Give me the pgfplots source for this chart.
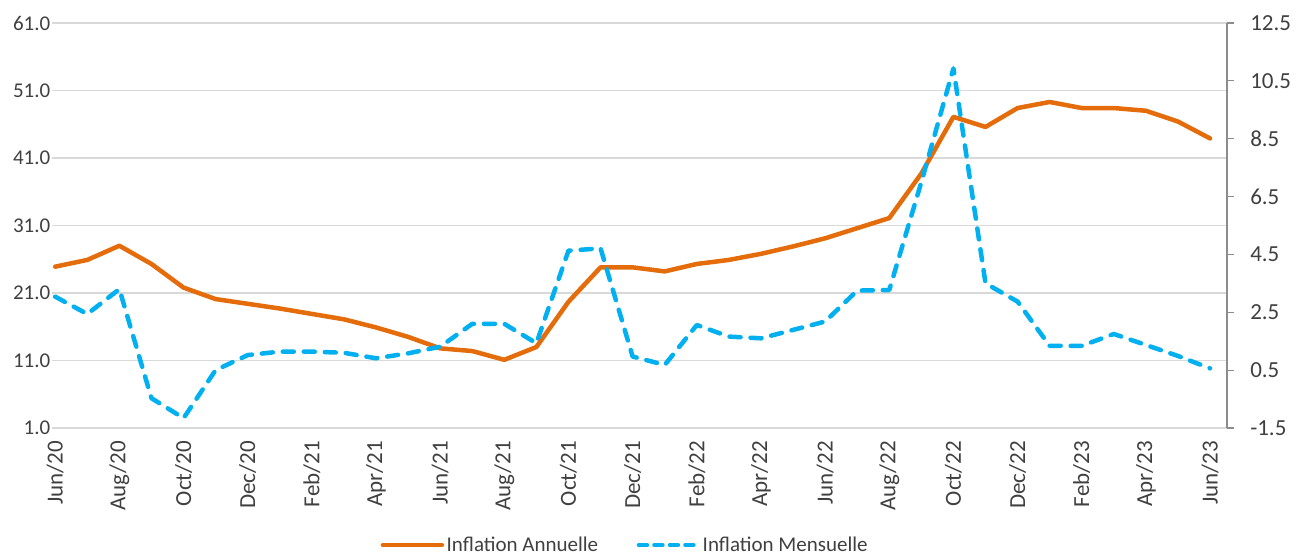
\documentclass[border=0pt]{standalone}
\usepackage{pgfplots}
\pgfplotsset{compat=1.18}
\usepackage{pgfplotstable}
\usepackage{fontspec}
\setmainfont{Carlito}
\definecolor{orangeA}{HTML}{E46C0A}
\definecolor{blueM}{HTML}{00B0F0}
\definecolor{gridc}{HTML}{D9D9D9}
\definecolor{txt}{HTML}{404040}
\definecolor{axc}{HTML}{8C8C8C}

\pgfplotstableread{
i annual monthly
0 24.9 3.04
1 25.9 2.44
2 28.0 3.30
3 25.3 -0.47
4 21.8 -1.16
5 20.1 0.50
6 19.4 1.02
7 18.7 1.14
8 17.9 1.14
9 17.1 1.10
10 15.9 0.91
11 14.5 1.08
12 12.8 1.31
13 12.4 2.10
14 11.1 2.10
15 13.0 1.43
16 19.7 4.63
17 24.8 4.71
18 24.8 0.97
19 24.2 0.68
20 25.3 2.06
21 25.9 1.66
22 26.8 1.60
23 27.9 1.89
24 29.1 2.18
25 30.6 3.25
26 32.1 3.27
27 38.7 7.00
28 47.1 10.93
29 45.6 3.50
30 48.4 2.87
31 49.3 1.34
32 48.4 1.34
33 48.4 1.75
34 48.0 1.37
35 46.4 0.99
36 43.9 0.56
}\data

\begin{document}
\begin{tikzpicture}
\useasboundingbox (0,0) rectangle (1298bp,558bp);
\begin{axis}[
  at={(52bp,130bp)}, anchor=south west,
  scale only axis, width=1175bp, height=405bp,
  xmin=-0.1, xmax=36.53, ymin=1, ymax=61,
  axis line style={draw=none},
  ytick={1,11,21,31,41,51,61},
  ymajorgrids, major grid style={gridc, line width=1.5bp},
  major tick length=0pt,
  xtick={0,2,...,36},
  xticklabels={Jun/20,Aug/20,Oct/20,Dec/20,Feb/21,Apr/21,Jun/21,Aug/21,Oct/21,Dec/21,Feb/22,Apr/22,Jun/22,Aug/22,Oct/22,Dec/22,Feb/23,Apr/23,Jun/23},
  xticklabel style={rotate=90, anchor=east, inner sep=0pt, text=txt, font=\fontsize{23bp}{27bp}\selectfont},
  xticklabel shift=13bp,
  yticklabel style={anchor=east, inner sep=0pt, text=txt, font=\fontsize{21bp}{25bp}\selectfont,
    /pgf/number format/.cd, fixed, fixed zerofill, precision=1, assume math mode=true},
  yticklabel shift=1.5bp,
]
\addplot[orangeA, line width=4.5bp, line join=round, line cap=round] table[x=i, y=annual]{\data};
\end{axis}
\begin{axis}[
  at={(52bp,130bp)}, anchor=south west,
  scale only axis, width=1175bp, height=405bp,
  xmin=-0.1, xmax=36.53, ymin=-1.5, ymax=12.5,
  axis x line=none, axis y line*=right,
  y axis line style={draw=axc, line width=1.2bp, -},
  ytick={-1.5,0.5,2.5,4.5,6.5,8.5,10.5,12.5},
  ytick style={draw=axc, line width=1.2bp},
  tick align=outside, major tick length=7bp,
  yticklabel style={anchor=west, inner sep=0pt, text=txt, font=\fontsize{23bp}{27bp}\selectfont,
    /pgf/number format/.cd, fixed, fixed zerofill, precision=1, assume math mode=true},
  yticklabel shift=16bp,
  legend style={at={(0.488,-0.289)}, anchor=center, draw=none, fill=none,
    font=\fontsize{21bp}{25bp}\selectfont, text=txt,
    nodes={inner sep=2.5bp},
    /tikz/every even column/.append style={column sep=36bp}},
  legend columns=2,
  legend image code/.code={\draw[#1] (0bp,0bp) -- (59bp,0bp);},
]
\addlegendimage{orangeA, line width=4.5bp, line cap=round}
\addlegendentry{Inflation Annuelle}
\addplot[blueM, line width=4.5bp, dash pattern=on 11bp off 10bp, line cap=round, line join=round, forget plot] table[x=i, y=monthly]{\data};
\addlegendimage{blueM, line width=4.5bp, line cap=round, dash pattern=on 8bp off 7.5bp}
\addlegendentry{Inflation Mensuelle}
\end{axis}
\end{tikzpicture}
\end{document}
